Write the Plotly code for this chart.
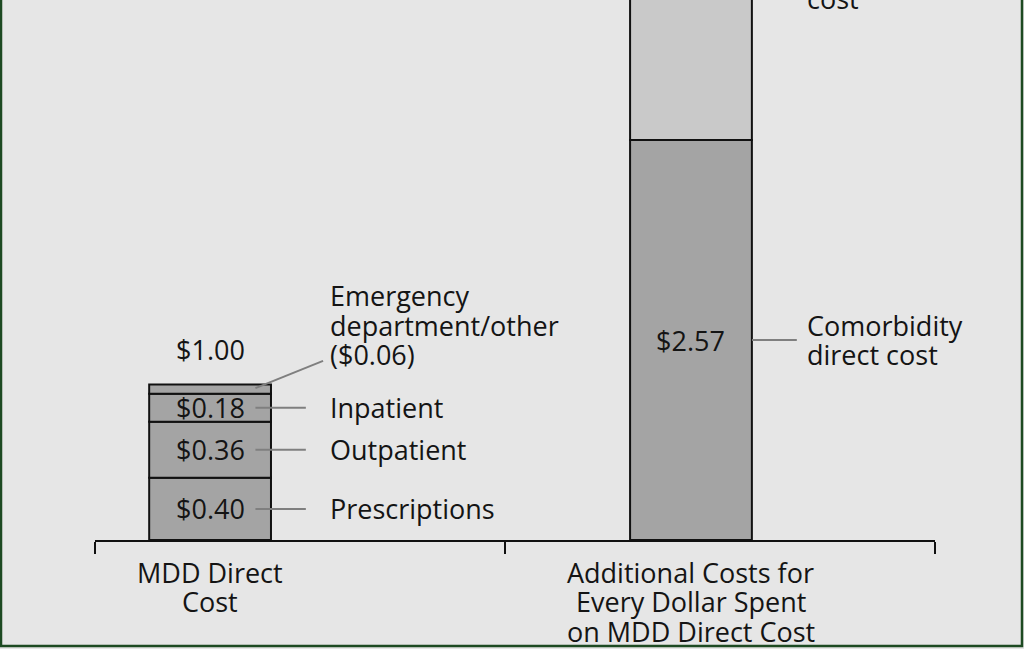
import plotly.graph_objects as go

# stacked segments, bottom to top
mdd_values = [0.40, 0.36, 0.18, 0.06]
mdd_labels = ["Prescriptions", "Outpatient", "Inpatient",
              "Emergency<br>department/other<br>($0.06)"]
mdd_colors = ["#a4a4a4", "#a4a4a4", "#a4a4a4", "#a4a4a4"]

add_values = [2.57, 2.2]
add_labels = ["Comorbidity<br>direct cost", "Comorbidity<br>indirect<br>cost"]
add_colors = ["#a4a4a4", "#c9c9c9"]

categories = ["MDD Direct<br>Cost",
              "Additional Costs for<br>Every Dollar Spent<br>on MDD Direct Cost"]
total_label = "$1.00"

X_POS = [0.137, 0.7095]
BAR_W = 0.145
Y_TOP = 3.47
FONT = "Open Sans"
FS = 27
LINE_H = 29.5
TXT = "#141414"
LEADER = "#7f7f7f"
EDGE = "#111111"

fig = go.Figure()
annotations = []
shapes = []


def put_text(x, y, text, xanchor="center", shift=0):
    # one annotation per line so the line spacing can follow the original
    lines = text.split("<br>")
    n = len(lines)
    for i, line in enumerate(lines):
        annotations.append(dict(
            x=x, y=y, xref="x", yref="paper", text=line, showarrow=False,
            xanchor=xanchor, yanchor="middle", borderpad=0,
            yshift=((n - 1) / 2 - i) * LINE_H + shift,
            font=dict(size=FS, color=TXT)))


def segment(xc, base, v, color):
    fig.add_trace(go.Bar(
        x=[xc], y=[v], base=[base], width=BAR_W,
        marker=dict(color=color, line=dict(color=EDGE, width=2)),
        hoverinfo="skip", showlegend=False,
    ))


def leader(x0, y0, x1, y1):
    shapes.append(dict(type="line", xref="x", yref="y", x0=x0, x1=x1, y0=y0, y1=y1,
                       line=dict(color=LEADER, width=2)))


# MDD direct cost bar
base = 0.0
xc = X_POS[0]
for v, c, lab in zip(mdd_values[:3], mdd_colors[:3], mdd_labels[:3]):
    segment(xc, base, v, c)
    mid = base + v / 2
    put_text(xc, mid / Y_TOP, "$%.2f" % v)
    leader(xc + 0.054, mid, xc + 0.114, mid)
    put_text(xc + 0.142, mid / Y_TOP, lab, xanchor="left")
    base += v
segment(xc, base, mdd_values[3], mdd_colors[3])
mdd_total = base + mdd_values[3]
leader(xc + 0.054, base + mdd_values[3] * 0.6, xc + 0.1345, mdd_total + 0.151)
put_text(xc + 0.142, (mdd_total + 0.38) / Y_TOP, mdd_labels[3], xanchor="left")
put_text(xc, mdd_total / Y_TOP, total_label, shift=35)

# additional costs bar
xc = X_POS[1]
segment(xc, 0, add_values[0], add_colors[0])
mid = add_values[0] / 2
put_text(xc, mid / Y_TOP, "$%.2f" % add_values[0])
leader(xc + 0.0726, mid, xc + 0.126, mid)
put_text(xc + 0.137, mid / Y_TOP, add_labels[0], xanchor="left")
segment(xc, add_values[0], add_values[1], add_colors[1])
put_text(xc + 0.137, (add_values[0] + add_values[1] / 2) / Y_TOP, add_labels[1], xanchor="left")

# category labels under the axis
for xc, cat in zip(X_POS, categories):
    n = len(cat.split("<br>"))
    put_text(xc, 0, cat, shift=-32 - (n - 1) / 2 * LINE_H)

# dark green frame
shapes.append(dict(type="rect", xref="paper", yref="paper",
                   x0=-94 / 840, x1=927 / 840, y0=-106 / 540, y1=1.1,
                   line=dict(color="#1d4a22", width=2.5)))

fig.update_layout(
    width=1024, height=649,
    margin=dict(l=95, r=89, t=0, b=109),
    paper_bgcolor="#e6e6e6", plot_bgcolor="#e6e6e6",
    barmode="overlay",
    font=dict(family=FONT, size=FS, color=TXT),
    annotations=annotations, shapes=shapes,
    xaxis=dict(range=[0, 1], tickvals=[0, 0.488, 1], ticktext=["", "", ""],
               showline=True, linecolor=EDGE, linewidth=2,
               ticks="outside", ticklen=12, tickwidth=2, tickcolor=EDGE,
               showgrid=False, zeroline=False, fixedrange=True),
    yaxis=dict(range=[0, Y_TOP], visible=False, fixedrange=True),
)

fig.write_html("out.html", config={"displayModeBar": False},
               post_script="document.body.style.margin='0px';")
